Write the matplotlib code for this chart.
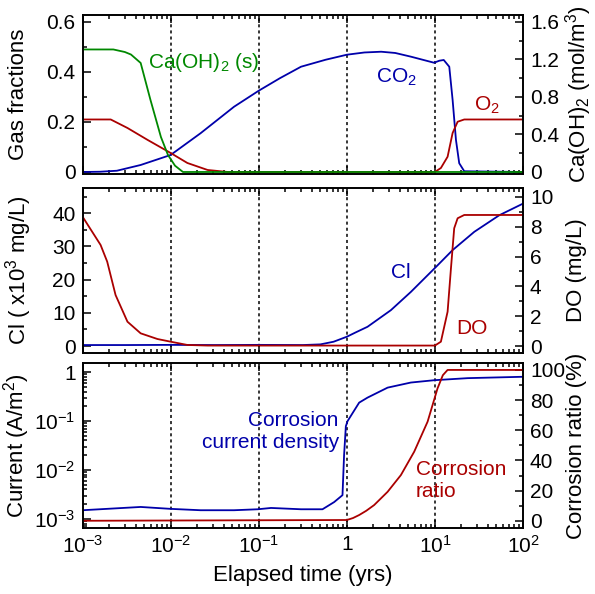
import numpy as np
import matplotlib
matplotlib.use("Agg")
import matplotlib.pyplot as plt
from matplotlib.ticker import FuncFormatter, MultipleLocator, LogLocator, NullFormatter

plt.rcParams['font.family'] = ['Liberation Sans', 'DejaVu Sans']
plt.rcParams['mathtext.fontset'] = 'custom'
plt.rcParams['mathtext.rm'] = 'Liberation Sans'
plt.rcParams['mathtext.it'] = 'Liberation Sans:italic'
plt.rcParams['font.size'] = 15
plt.rcParams['axes.labelsize'] = 16
plt.rcParams['xtick.labelsize'] = 15
plt.rcParams['ytick.labelsize'] = 15

BLUE = '#0000AA'
RED = '#AA0000'
GREEN = '#008800'

# --- top panel: gas fractions / Ca(OH)2 ---
co2_logt = [-3.0, -2.8, -2.61, -2.34, -2.0, -1.66, -1.28, -1.0, -0.76, -0.52, -0.24, 0.0, 0.2,
            0.39, 0.55, 0.73, 0.99, 1.05, 1.10, 1.163, 1.201, 1.239, 1.276, 1.333, 2.0]
co2 = [0.0, 0.001, 0.005, 0.028, 0.068, 0.155, 0.261, 0.325, 0.375, 0.421, 0.449, 0.469, 0.478,
       0.481, 0.476, 0.461, 0.437, 0.445, 0.448, 0.421, 0.288, 0.128, 0.035, 0.003, 0.0]

o2_logt = [-3.0, -2.68, -2.49, -2.26, -2.0, -1.81, -1.58, -1.35, 1.0, 1.068, 1.144, 1.201,
           1.258, 1.333, 2.0]
o2 = [0.21, 0.21, 0.176, 0.128, 0.076, 0.036, 0.008, 0.0, 0.0, 0.016, 0.061, 0.156,
      0.201, 0.21, 0.21]

caoh_logt = [-3.0, -2.65, -2.52, -2.45, -2.34, -2.23, -2.11, -2.03, -1.95, -1.86, 2.0]
caoh = [1.307, 1.307, 1.28, 1.253, 1.163, 0.773, 0.373, 0.181, 0.067, 0.0, 0.0]  # mol/m3

# --- middle panel: Cl and DO ---
cl_logt = [-3.0, -2.5, -2.0, -1.5, -1.0, -0.5, -0.3, -0.15, 0.0, 0.1, 0.235, 0.5, 0.727,
           1.011, 1.201, 1.447, 1.731, 2.0]
cl = [0.3, 0.3, 0.35, 0.3, 0.35, 0.3, 0.5, 1.3, 2.8, 4.1, 5.8, 10.8, 16.3,
      23.8, 28.9, 34.4, 39.4, 42.9]  # x10^3 mg/L

do_logt = [-3.0, -2.795, -2.72, -2.625, -2.49, -2.34, -2.15, -2.0, -1.81, -1.58, 1.0, 1.068,
           1.144, 1.182, 1.219, 1.258, 1.333, 2.0]
do = [8.68, 6.78, 5.66, 3.42, 1.63, 0.85, 0.47, 0.29, 0.07, 0.03, 0.03, 0.29,
      2.3, 5.2, 7.9, 8.57, 8.79, 8.79]  # mg/L

# --- bottom panel: corrosion current density and corrosion ratio ---
cur_logt = [-3.0, -2.34, -2.0, -1.66, -1.28, -1.01, -0.86, -0.52, -0.276, -0.144, -0.049,
            -0.031, -0.011, 0.008, 0.14, 0.235, 0.463, 0.727, 0.99, 1.372, 2.0]
cur = [1.5e-3, 1.75e-3, 1.6e-3, 1.5e-3, 1.5e-3, 1.57e-3, 1.67e-3, 1.57e-3, 1.57e-3, 2.2e-3,
       3.05e-3, 0.02, 0.078, 0.099, 0.237, 0.30, 0.48, 0.61, 0.68, 0.75, 0.80]  # A/m2

ratio_logt = [-3.0, 0.0, 0.07, 0.14, 0.22, 0.31, 0.463, 0.614, 0.765, 0.917, 1.03, 1.09,
              1.144, 2.0]
ratio = [0.0, 0.5, 1.8, 3.8, 6.6, 10.4, 19.2, 30.3, 45.8, 65.7, 87.8, 96.5, 100.0, 100.0]  # %

guide_years = [0.01, 0.1, 1, 10]


def t(logt):
    return 10 ** np.asarray(logt)


def pow_fmt(v, pos):
    e = int(round(np.log10(v)))
    if e == 0:
        return '1'
    return r'$\mathregular{10^{%d}}$' % e


def style(ax):
    ax.tick_params(which='both', direction='in', top=True, width=1.1)
    ax.tick_params(which='major', length=6, pad=5)
    ax.tick_params(which='minor', length=3)
    for s in ax.spines.values():
        s.set_linewidth(1.2)


fig = plt.figure(figsize=(5.95, 5.94), dpi=100)
L, W = 0.1387, 0.7403
ax1 = fig.add_axes([L, 0.7071, W, 0.2677])
ax2 = fig.add_axes([L, 0.4057, W, 0.2778], sharex=ax1)
ax3 = fig.add_axes([L, 0.1111, W, 0.2778], sharex=ax1)

ax1.set_xscale('log')
ax1.set_xlim(1e-3, 1e2)
ax1.xaxis.set_major_locator(LogLocator(base=10, numticks=12))
ax1.xaxis.set_major_formatter(FuncFormatter(pow_fmt))
ax1.xaxis.set_minor_locator(LogLocator(base=10, subs=np.arange(2, 10), numticks=12))

lw = 1.3
# top
ax1r = ax1.twinx()
ax1.plot(t(co2_logt), co2, color=BLUE, lw=lw)
ax1.plot(t(o2_logt), o2, color=RED, lw=lw)
ax1r.plot(t(caoh_logt), caoh, color=GREEN, lw=lw)
ax1.set_ylim(-0.008, 0.628)
ax1r.set_ylim(-0.0213, 1.675)
ax1.yaxis.set_major_locator(MultipleLocator(0.2))
ax1.yaxis.set_minor_locator(MultipleLocator(0.1))
ax1.yaxis.set_major_formatter(FuncFormatter(lambda v, p: '0' if abs(v) < 1e-9 else '%.1f' % v))
ax1r.yaxis.set_major_locator(MultipleLocator(0.4))
ax1r.yaxis.set_minor_locator(MultipleLocator(0.2))
ax1r.yaxis.set_major_formatter(FuncFormatter(lambda v, p: '0' if abs(v) < 1e-9 else '%.1f' % v))
ax1.set_ylabel('Gas fractions')
ax1r.set_ylabel(r'Ca(OH)$\mathregular{_2}$ (mol/m$\mathregular{^3}$)')
ax1.text(5.5e-3, 0.436, r'Ca(OH)$\mathregular{_2}$ (s)', color=GREEN, ha='left', va='center')
ax1.text(2.15, 0.38, r'CO$\mathregular{_2}$', color=BLUE, ha='left', va='center')
ax1.text(27.7, 0.268, r'O$\mathregular{_2}$', color=RED, ha='left', va='center')

# middle
ax2r = ax2.twinx()
ax2.plot(t(cl_logt), cl, color=BLUE, lw=lw)
ax2r.plot(t(do_logt), do, color=RED, lw=lw)
ax2.set_ylim(-2.1, 47.6)
ax2r.set_ylim(-0.47, 10.6)
ax2.yaxis.set_major_locator(MultipleLocator(10))
ax2.yaxis.set_minor_locator(MultipleLocator(5))
ax2r.yaxis.set_major_locator(MultipleLocator(2))
ax2r.yaxis.set_minor_locator(MultipleLocator(1))
ax2.set_ylabel(r'Cl ( x10$\mathregular{^3}$ mg/L)')
ax2r.set_ylabel('DO (mg/L)')
ax2.text(3.16, 22.3, 'Cl', color=BLUE, ha='left', va='center')
ax2r.text(17.3, 1.2, 'DO', color=RED, ha='left', va='center')

# bottom
ax3r = ax3.twinx()
ax3.plot(t(cur_logt), cur, color=BLUE, lw=lw)
ax3r.plot(t(ratio_logt), ratio, color=RED, lw=lw)
ax3.set_yscale('log')
ax3.set_ylim(6.5e-4, 1.53)
ax3.yaxis.set_major_locator(LogLocator(base=10, numticks=12))
ax3.yaxis.set_minor_locator(LogLocator(base=10, subs=np.arange(2, 10), numticks=12))
ax3.yaxis.set_major_formatter(FuncFormatter(pow_fmt))
ax3.yaxis.set_minor_formatter(NullFormatter())
ax3r.set_ylim(-4.8, 104.6)
ax3r.yaxis.set_major_locator(MultipleLocator(20))
ax3r.yaxis.set_minor_locator(MultipleLocator(10))
ax3.set_ylabel(r'Current (A/m$\mathregular{^2}$)')
ax3r.set_ylabel('Corrosion ratio (%)')
ax3.set_xlabel('Elapsed time (yrs)', labelpad=6)
ax3.text(0.81, 0.061, 'Corrosion\ncurrent density', color=BLUE, ha='right', va='center',
         multialignment='right')
ax3r.text(6.08, 27, 'Corrosion\nratio', color=RED, ha='left', va='center', multialignment='left')

for ax in (ax1, ax2, ax3):
    for g in guide_years:
        ax.axvline(g, color='black', ls=(0, (2, 2)), lw=1.1, zorder=0)
    style(ax)
ax1.yaxis.set_label_coords(-0.122, 0.5)
ax2.yaxis.set_label_coords(-0.110, 0.5)
ax3.yaxis.set_label_coords(-0.114, 0.5)
for ax in (ax1r, ax2r, ax3r):
    style(ax)
    ax.tick_params(which='both', left=False, right=True)
    ax.yaxis.set_label_coords(1.097, 0.5)
ax1r.yaxis.set_label_coords(1.090, 0.5)

plt.setp(ax1.get_xticklabels(), visible=False)
plt.setp(ax2.get_xticklabels(), visible=False)

fig.savefig('out.png', dpi=100)
